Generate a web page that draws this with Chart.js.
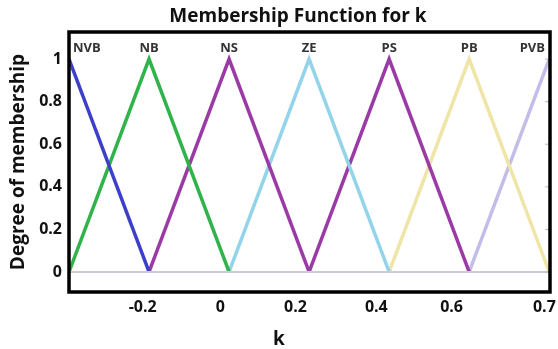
<!DOCTYPE html>
<html>
<head>
<meta charset="utf-8">
<script src="https://cdn.jsdelivr.net/npm/chart.js@4.4.1/dist/chart.umd.min.js"></script>
<style>
  html, body { margin: 0; padding: 0; background: #fff; }
  #wrap { width: 558px; height: 349px; }
</style>
</head>
<body>
<div id="wrap"><canvas id="grafico"></canvas></div>
<script>
// x = index of the peak (peaks are evenly spaced in the figure)
const peakX = [0, 1, 2, 3, 4, 5, 6];
// the axis labels sit a little off the peaks in the original
const xTickPos = [0.92, 1.89, 2.83, 3.84, 4.78, 5.94];
const xTickLabels = ['-0.2', '0', '0.2', '0.4', '0.6', '0.7'];
const yTicks = [0, 0.2, 0.4, 0.6, 0.8, 1];

const setNames = ['NVB', 'NB', 'NS', 'ZE', 'PS', 'PB', 'PVB'];
const setColors = ['#3d3fca', '#2fb34a', '#9b3aa6', '#93d4e9', '#9b3aa6', '#eee5a6', '#c5bde8'];

// membership value at each peak position (null = outside the triangle)
const nvb = [1, 0, null, null, null, null, null];
const nb  = [0, 1, 0, null, null, null, null];
const ns  = [null, 0, 1, 0, null, null, null];
const ze  = [null, null, 0, 1, 0, null, null];
const ps  = [null, null, null, 0, 1, 0, null];
const pb  = [null, null, null, null, 0, 1, 0];
const pvb = [null, null, null, null, null, 0, 1];
const baseline = [0, 0, 0, 0, 0, 0, 0];
const series = [nvb, nb, ns, ze, ps, pb, pvb];

const datasets = [{
    label: 'zero',
    data: baseline.map((v, i) => ({ x: peakX[i], y: v })),
    borderColor: '#cfcad8',
    borderWidth: 2,
    pointRadius: 0
}].concat(series.map((vals, i) => ({
    label: setNames[i],
    data: vals.map((v, j) => ({ x: peakX[j], y: v })),
    borderColor: setColors[i],
    backgroundColor: setColors[i],
    borderWidth: 3.5,
    pointRadius: 0,
    tension: 0,
    spanGaps: false
})));

const FUENTE = '"Open Sans", sans-serif';

const marcoYEtiquetas = {
    id: 'marcoYEtiquetas',
    afterDatasetsDraw(chart) {
        const { ctx, chartArea: a, scales } = chart;
        ctx.save();
        // set names above the peaks
        ctx.font = 'bold 13px ' + FUENTE;
        ctx.fillStyle = '#333';
        ctx.textAlign = 'center';
        ctx.textBaseline = 'middle';
        setNames.forEach((name, i) => {
            const w = ctx.measureText(name).width;
            let x = scales.x.getPixelForValue(peakX[i]);
            x = Math.max(a.left + w / 2 + 4, Math.min(a.right - w / 2 - 5, x));
            ctx.fillText(name, x, scales.y.getPixelForValue(1) - 11);
        });
        // small inner ticks on the right side
        ctx.strokeStyle = '#bbb';
        ctx.lineWidth = 1;
        yTicks.forEach(v => {
            const y = scales.y.getPixelForValue(v);
            ctx.beginPath();
            ctx.moveTo(a.right - 5, y);
            ctx.lineTo(a.right, y);
            ctx.stroke();
        });
        ctx.strokeStyle = '#000';
        ctx.lineWidth = 3.5;
        ctx.strokeRect(a.left, a.top, a.right - a.left, a.bottom - a.top);

        // title and x title (not centred on the plot in the original)
        ctx.fillStyle = '#111';
        ctx.font = 'bold 19px ' + FUENTE;
        ctx.fillText('Membership Function for k', chart.width * 0.534, 17);
        ctx.fillText('k', chart.width * 0.5, 340);
        ctx.restore();
    }
};

new Chart(document.getElementById('grafico').getContext('2d'), {
    type: 'line',
    data: { datasets: datasets },
    options: {
        responsive: true,
        maintainAspectRatio: false,
        animation: false,
        layout: { padding: { top: 32, right: 8, left: 0, bottom: 0 } },
        plugins: {
            legend: { display: false },
            tooltip: { enabled: false },
            title: { display: false }
        },
        scales: {
            x: {
                type: 'linear',
                min: 0,
                max: 6.01,
                grid: { display: false, drawTicks: false },
                border: { display: false },
                afterBuildTicks: s => { s.ticks = xTickPos.map(v => ({ value: v })); },
                afterFit: s => { s.height = 57; s.paddingLeft = 0; s.paddingRight = 0; },
                ticks: {
                    callback: (v, i) => xTickLabels[i],
                    color: '#111',
                    padding: 6,
                    maxRotation: 0,
                    autoSkip: false,
                    font: { family: FUENTE, size: 16, weight: 'bold' }
                }
            },
            y: {
                min: -0.094,
                max: 1.127,
                grid: { display: false, drawTicks: false },
                border: { display: false },
                afterBuildTicks: s => { s.ticks = yTicks.map(v => ({ value: v })); },
                afterFit: s => { s.width = 69; s.paddingTop = 0; s.paddingBottom = 0; },
                ticks: {
                    callback: v => String(v),
                    color: '#111',
                    padding: 7,
                    font: { family: FUENTE, size: 16, weight: 'bold' }
                },
                title: {
                    display: true,
                    text: 'Degree of membership',
                    color: '#111',
                    padding: { top: 7, bottom: 0 },
                    font: { family: FUENTE, size: 19, weight: 'bold' }
                }
            }
        }
    },
    plugins: [marcoYEtiquetas]
});
</script>
</body>
</html>
